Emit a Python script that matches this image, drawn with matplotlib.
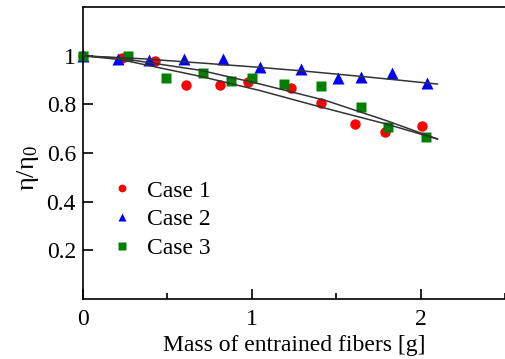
import matplotlib
matplotlib.use("Agg")
import matplotlib.pyplot as plt
from matplotlib.ticker import MultipleLocator

plt.rcParams["font.family"] = ["Liberation Serif", "DejaVu Serif"]
plt.rcParams["mathtext.fontset"] = "custom"
plt.rcParams["mathtext.rm"] = "Liberation Serif"
plt.rcParams["font.size"] = 17

# measured points
case1_x = [0.0, 0.23, 0.43, 0.61, 0.81, 0.98, 1.23, 1.41, 1.61, 1.79, 2.01]
case1_y = [1.0, 0.991, 0.979, 0.881, 0.879, 0.893, 0.867, 0.805, 0.721, 0.687, 0.712]

case2_x = [0.0, 0.21, 0.39, 0.60, 0.83, 1.05, 1.29, 1.51, 1.65, 1.83, 2.04]
case2_y = [1.0, 0.986, 0.984, 0.986, 0.986, 0.953, 0.945, 0.907, 0.911, 0.929, 0.890]

case3_x = [0.0, 0.27, 0.49, 0.71, 0.88, 1.00, 1.19, 1.41, 1.65, 1.81, 2.03]
case3_y = [1.0, 1.0, 0.908, 0.929, 0.898, 0.908, 0.884, 0.877, 0.789, 0.707, 0.668]

# fitted curves
fit1_x = [0.0, 0.22, 0.70, 1.05, 1.40, 1.80, 2.10]
fit1_y = [1.0, 0.985, 0.915, 0.857, 0.791, 0.719, 0.658]

fit2_x = [0.0, 0.35, 0.71, 1.00, 1.30, 1.70, 2.10]
fit2_y = [1.0, 0.988, 0.970, 0.955, 0.938, 0.912, 0.884]

fit3_x = [0.0, 0.22, 0.70, 1.05, 1.44, 1.80, 2.10]
fit3_y = [1.0, 0.990, 0.940, 0.884, 0.816, 0.733, 0.658]

fig = plt.figure(figsize=(5.05, 3.59), dpi=100)
ax = fig.add_axes([0.164, 0.167, 0.836, 0.813])

for fx, fy in [(fit1_x, fit1_y), (fit2_x, fit2_y), (fit3_x, fit3_y)]:
    ax.plot(fx, fy, color="#333333", lw=1.1, zorder=3)

ax.plot(case1_x, case1_y, "o", color="red", ms=7.5, mec="none", label="Case 1", zorder=2, clip_on=False)
ax.plot(case2_x, case2_y, "^", color="blue", ms=8, mec="none", label="Case 2", zorder=2, clip_on=False)
ax.plot(case3_x, case3_y, "s", color="green", ms=7, mec="none", label="Case 3", zorder=2, clip_on=False)

ax.set_xlim(0, 2.5)
ax.set_ylim(0, 1.2)
ax.set_xticks([0, 1, 2])
ax.xaxis.set_minor_locator(MultipleLocator(0.5))
ax.set_yticks([0.2, 0.4, 0.6, 0.8, 1.0])
ax.set_yticklabels(["0.2", "0.4", "0.6", "0.8", "1"])
ax.tick_params(direction="in", length=7, width=1.2, pad=5)
ax.tick_params(which="minor", direction="in", length=4, width=1.2)
ax.tick_params(axis="x", pad=7)
ax.spines["right"].set_visible(False)
for s in ["left", "bottom", "top"]:
    ax.spines[s].set_linewidth(1.2)

ax.set_xlabel("Mass of entrained fibers [g]", labelpad=4)
ax.set_ylabel(r"$\mathrm{η/η_0}$", fontsize=19)
ax.yaxis.set_label_coords(-0.098, 0.45)

ax.legend(loc="upper left", bbox_to_anchor=(0.017, 0.48), frameon=False,
          markerscale=0.75, handletextpad=0.6, labelspacing=0.3, handlelength=0.9)

fig.savefig("out.png", dpi=100)
